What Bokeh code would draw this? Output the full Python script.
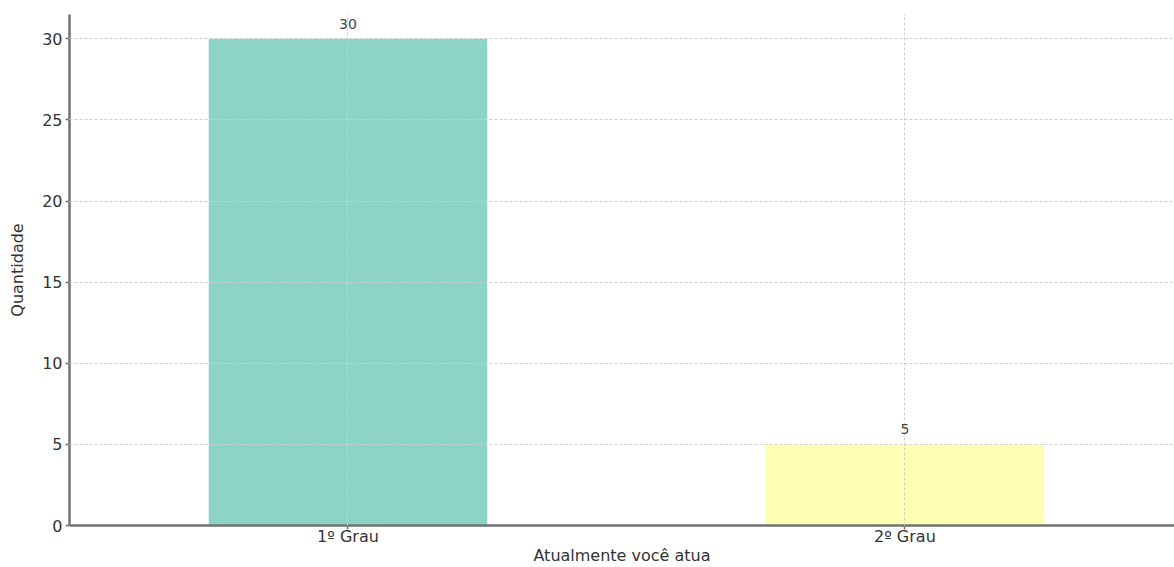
from bokeh.plotting import figure
from bokeh.models import ColumnDataSource, LabelSet, Range1d, FixedTicker
from bokeh.core.properties import value
from bokeh.embed import file_html
from bokeh.resources import INLINE

categories = ["1º Grau", "2º Grau"]
values = [30, 5]
colors = ["#8dd3c7", "#ffffb3"]
y_ticks = [0, 5, 10, 15, 20, 25, 30]
x_title = "Atualmente você atua"
y_title = "Quantidade"

xs = list(range(len(categories)))
src = ColumnDataSource(dict(x=xs, top=values, color=colors,
                            label=[str(v) for v in values]))

FONT = "DejaVu Sans"
p = figure(width=1174, height=567, output_backend="svg", toolbar_location=None,
           x_range=Range1d(-0.5, 1.484), y_range=Range1d(0, 31.5),
           min_border_left=69, min_border_top=14, min_border_bottom=42, min_border_right=0)
p.outline_line_color = None
p.background_fill_color = "white"
p.border_fill_color = "white"

p.vbar(x="x", top="top", width=0.5, bottom=0, fill_color="color", line_color=None, source=src)

for g in (p.xgrid, p.ygrid):
    g.grid_line_color = "#cfcfcf"
    g.grid_line_dash = "3 2"
    g.grid_line_width = 1
    g.level = "guide"

p.xaxis.ticker = FixedTicker(ticks=xs)
p.xaxis.major_label_overrides = {i: c for i, c in zip(xs, categories)}
p.yaxis.ticker = FixedTicker(ticks=y_ticks)
p.xgrid.ticker = FixedTicker(ticks=xs)
p.ygrid.ticker = FixedTicker(ticks=y_ticks)

for ax in (p.xaxis, p.yaxis):
    ax.axis_line_color = "#727272"
    ax.axis_line_width = 2.5
    ax.major_tick_line_color = "#727272"
    ax.major_tick_line_width = 1.5
    ax.major_tick_out = 4
    ax.major_tick_in = 0
    ax.minor_tick_line_color = None
    ax.major_label_text_font = FONT
    ax.major_label_text_font_size = "16px"
    ax.major_label_text_color = "#333333"
    ax.axis_label_text_font = FONT
    ax.axis_label_text_font_size = "16px"
    ax.axis_label_text_color = "#333333"
    ax.axis_label_text_font_style = "normal"

p.xaxis.major_label_standoff = -3
p.xaxis.axis_label = x_title
p.xaxis.axis_label_standoff = -3
p.yaxis.major_label_standoff = 3
p.yaxis.axis_label = y_title
p.yaxis.axis_label_standoff = 12

labels = LabelSet(x="x", y="top", text="label", source=src, y_offset=15,
                  text_align="center", text_baseline="middle",
                  text_font=value(FONT), text_font_size=value("14px"), text_color="#444444")
p.add_layout(labels)

open("out.html", "w").write(file_html(p, INLINE))
